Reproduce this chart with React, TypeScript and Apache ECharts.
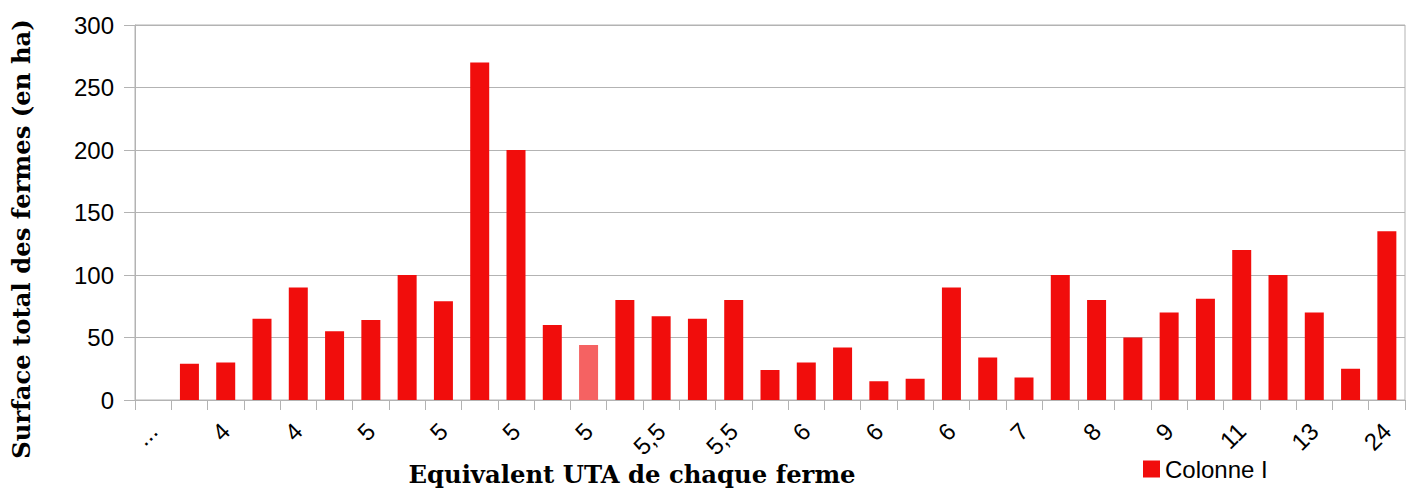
import React, { useEffect, useRef } from "react";
import * as echarts from "echarts";

const categories = [
  "...", "3", "4", "4", "4", "4,5", "5", "5", "5", "5", "5", "5", "5", "5,5", "5,5", "5,5", "5,5", "6",
  "6", "6", "6", "6", "6", "7", "7", "8", "8", "8", "9", "10", "11", "12", "13", "15", "24",
];
const values: (number | null)[] = [
  null, 29, 30, 65, 90, 55, 64, 100, 79, 270, 200, 60, 44, 80, 67, 65, 80, 24,
  30, 42, 15, 17, 90, 34, 18, 100, 80, 50, 70, 81, 120, 100, 70, 25, 135,
];
const highlightIndex = 12;
const yTicks = { min: 0, max: 300, interval: 50 };
const seriesName = "Colonne I";
const xTitle = "Equivalent UTA de chaque ferme";
const yTitle = "Surface total des fermes (en ha)";

export default function App() {
  const ref = useRef<HTMLDivElement>(null);
  useEffect(() => {
    if (!ref.current) return;
    const chart = echarts.init(ref.current, undefined, { renderer: "svg" });
    const data = values.map((v, i) =>
      i === highlightIndex ? { value: v, itemStyle: { color: "#f56262" } } : v
    );
    chart.setOption({
      animation: false,
      backgroundColor: "#ffffff",
      grid: {
        left: 135,
        right: 9,
        top: 25,
        bottom: 88,
        show: true,
        borderColor: "#b3b3b3",
        borderWidth: 1,
        containLabel: false,
      },
      legend: {
        left: 1138,
        top: 452,
        itemWidth: 17,
        itemHeight: 17,
        itemGap: 8,
        icon: "rect",
        textStyle: { fontFamily: "Liberation Sans", fontSize: 24, color: "#000" },
        data: [seriesName],
      },
      xAxis: {
        type: "category",
        data: categories,
        boundaryGap: true,
        axisLine: { lineStyle: { color: "#b3b3b3" } },
        axisTick: { show: true, interval: 0, length: 10, lineStyle: { color: "#b3b3b3" } },
        axisLabel: {
          interval: 1,
          rotate: 45,
          margin: 27,
          fontFamily: "Liberation Sans",
          fontSize: 24,
          color: "#000",
        },
      },
      yAxis: {
        type: "value",
        min: yTicks.min,
        max: yTicks.max,
        interval: yTicks.interval,
        axisLine: { show: true, lineStyle: { color: "#b3b3b3" } },
        axisTick: { show: true, length: 11, lineStyle: { color: "#b3b3b3" } },
        splitLine: { lineStyle: { color: "#b3b3b3" } },
        axisLabel: {
          margin: 21,
          fontFamily: "Liberation Sans",
          fontSize: 24,
          color: "#000",
        },
      },
      graphic: [
        {
          type: "text",
          x: 632,
          y: 474,
          style: {
            text: xTitle,
            font: "bold 24.3px 'DejaVu Serif'",
            fill: "#000",
            align: "center",
            verticalAlign: "middle",
          },
        },
        {
          type: "text",
          x: 21,
          y: 239,
          rotation: Math.PI / 2,
          style: {
            text: yTitle,
            font: "bold 24.3px 'DejaVu Serif'",
            fill: "#000",
            align: "center",
            verticalAlign: "middle",
          },
        },
      ],
      series: [
        {
          name: seriesName,
          type: "bar",
          data,
          barWidth: 19,
          itemStyle: { color: "#f10d0c" },
        },
      ],
    });
    return () => chart.dispose();
  }, []);
  return (
    <div
      ref={ref}
      style={{ position: "fixed", left: 0, top: 0, width: 1414, height: 488 }}
    />
  );
}
